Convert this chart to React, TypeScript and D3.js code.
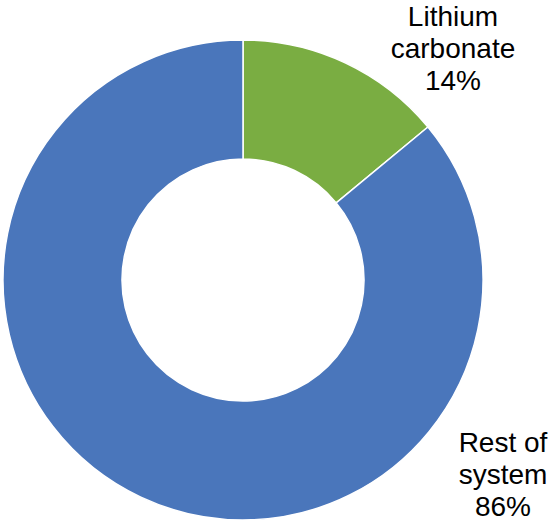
import React from "react";
import * as d3 from "d3";

const categories = ["Lithium carbonate", "Rest of system"];
const values = [14, 86];
const labelLines = [["Lithium", "carbonate", "14%"], ["Rest of", "system", "86%"]];
const colors = ["#7AAD42", "#4A76BB"];

export default function App() {
  const W = 549, H = 522;
  const cx = 243, cy = 280, R = 240, r = 121;
  const pie = d3.pie<number>().sort(null).value((d) => d)(values);
  const arc = d3.arc<d3.PieArcDatum<number>>().innerRadius(r).outerRadius(R);
  const labelPos = [
    { x: 453, y: 26 },
    { x: 503, y: 452 },
  ];
  return (
    <svg width={W} height={H} style={{ position: "absolute", left: 0, top: 0 }}
      fontFamily="'Liberation Sans', Arial, sans-serif">
      <g transform={`translate(${cx},${cy})`}>
        {pie.map((p, i) => (
          <path key={categories[i]} d={arc(p) || ""} fill={colors[i]} stroke="#fff" strokeWidth={1.5} />
        ))}
      </g>
      {labelLines.map((lines, i) => (
        <text key={i} textAnchor="middle" fontSize={28} fill="#000">
          {lines.map((l, j) => (
            <tspan key={j} x={labelPos[i].x} y={labelPos[i].y + j * 32}>{l}</tspan>
          ))}
        </text>
      ))}
    </svg>
  );
}
